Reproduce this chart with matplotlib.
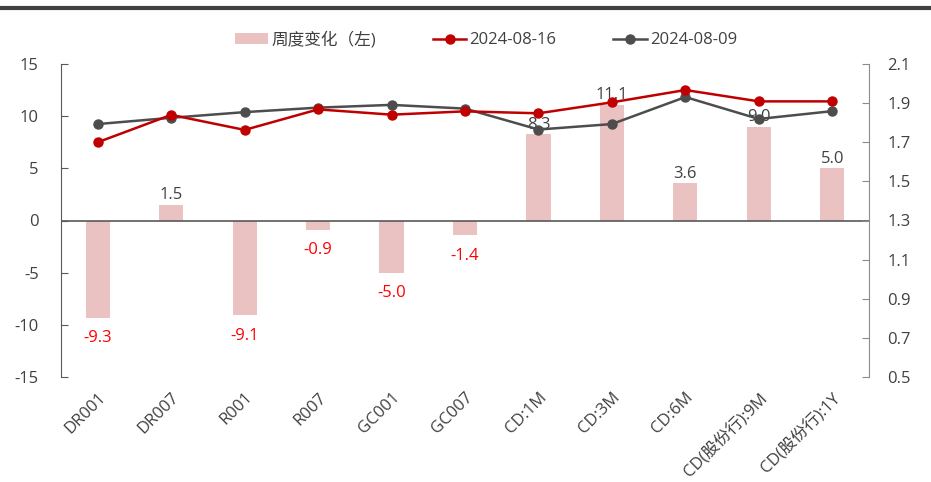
import matplotlib
matplotlib.use("Agg")
import matplotlib.pyplot as plt
from matplotlib.lines import Line2D
from matplotlib.patches import Patch
import numpy as np

plt.rcParams['font.family'] = ['Open Sans', 'Noto Sans CJK SC', 'DejaVu Sans']

categories = ["DR001", "DR007", "R001", "R007", "GC001", "GC007", "CD:1M", "CD:3M",
              "CD:6M", "CD(股份行):9M", "CD(股份行):1Y"]
weekly_change = [-9.3, 1.5, -9.1, -0.9, -5.0, -1.4, 8.3, 11.1, 3.6, 9.0, 5.0]
rate_0816 = [1.70, 1.84, 1.763, 1.868, 1.841, 1.858, 1.848, 1.904, 1.967, 1.909, 1.909]
rate_0809 = [1.793, 1.825, 1.854, 1.877, 1.891, 1.872, 1.765, 1.793, 1.931, 1.819, 1.859]

left_ticks = [-15, -10, -5, 0, 5, 10, 15]
right_ticks = [0.5, 0.7, 0.9, 1.1, 1.3, 1.5, 1.7, 1.9, 2.1]

W, H = 931, 482
fig = plt.figure(figsize=(W / 100, H / 100), dpi=100)
ax = fig.add_axes([61 / W, 1 - 377 / H, (869 - 61) / W, (377 - 64) / H])
ax2 = ax.twinx()

x = np.arange(len(categories))
bar_color = "#EAC2C2"
ax.bar(x, weekly_change, width=0.33, color=bar_color, zorder=1)
ax.axhline(0, color="#595959", lw=1.2, zorder=2)
ax.set_ylim(-15, 15)
ax.set_xlim(-0.5, len(categories) - 0.5)
ax.set_yticks(left_ticks)
ax.set_yticklabels([str(t) for t in left_ticks])

for xi, v in zip(x, weekly_change):
    if v < 0:
        ax.annotate(f"{v:.1f}", (xi, v), xytext=(0, -9), textcoords="offset points",
                    ha="center", va="top", color="#FF0000", fontsize=12, zorder=5)
    else:
        ax.annotate(f"{v:.1f}", (xi, v), xytext=(0, 1), textcoords="offset points",
                    ha="center", va="bottom", color="#404040", fontsize=12, zorder=5)

red = "#C00000"
gray = "#4D4D4D"
ax2.plot(x, rate_0816, color=red, lw=1.8, marker="o", ms=6.5, zorder=4)
ax2.plot(x, rate_0809, color=gray, lw=1.8, marker="o", ms=6.5, zorder=3)
ax2.set_ylim(0.5, 2.1)
ax2.set_yticks(right_ticks)
ax2.set_yticklabels([f"{t:.1f}" for t in right_ticks])

for a in (ax, ax2):
    a.spines["top"].set_visible(False)
    a.spines["bottom"].set_visible(False)
ax.spines["right"].set_visible(False)
ax2.spines["left"].set_visible(False)
ax.spines["left"].set_color("#595959")
ax2.spines["right"].set_color("#8C8C8C")

ax.tick_params(axis="y", direction="in", length=5, color="#595959", labelsize=12,
               labelcolor="#404040", pad=16)
ax2.tick_params(axis="y", direction="in", length=5, color="#8C8C8C", labelsize=12,
                labelcolor="#404040", pad=13)
ax.set_xticks(x)
ax.set_xticklabels(categories, rotation=45, ha="right", rotation_mode="anchor",
                   fontsize=12, color="#404040")
ax.tick_params(axis="x", length=0, pad=9)

# top rule
fig.add_artist(Line2D([0, 1], [1 - 8 / H, 1 - 8 / H], transform=fig.transFigure,
                      color="#404040", lw=3))

handles = [Patch(facecolor=bar_color, edgecolor="none"),
           Line2D([], [], color=red, lw=1.8, marker="o", ms=6.5),
           Line2D([], [], color=gray, lw=1.8, marker="o", ms=6.5)]
labels = ["周度变化（左)", "2024-08-16", "2024-08-09"]
fig.legend(handles, labels, loc="center", bbox_to_anchor=(486 / W, 1 - 40 / H), ncol=3,
           frameon=False, fontsize=12, columnspacing=3.4, handlelength=2.0,
           handletextpad=0.2, labelcolor="#404040")

fig.savefig("out.png", dpi=100)
